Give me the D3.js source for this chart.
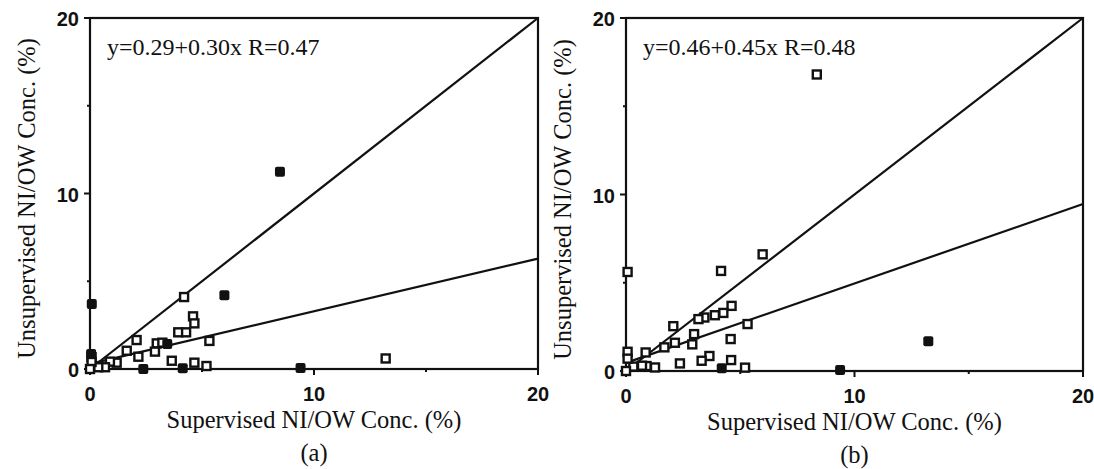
<!DOCTYPE html>
<html>
<head>
<meta charset="utf-8">
<script src="https://cdn.jsdelivr.net/npm/d3@7"></script>
<style>
  body { margin: 0; background: #fff; }
  .tick-label { font-family: "Liberation Sans", Arial, sans-serif; font-size: 20px; font-weight: bold; fill: #111; }
  .axis-title { font-family: "Liberation Serif", "Times New Roman", serif; font-size: 24.5px; fill: #111; }
  .eq { font-family: "Liberation Serif", "Times New Roman", serif; font-size: 24px; fill: #111; }
</style>
</head>
<body>
<svg id="chart" width="1094" height="469"></svg>
<script>
// panel (a)
let aOpenX = [4.2, 4.6, 4.66, 3.94, 4.29, 2.08, 5.33, 2.98, 3.23, 1.64, 2.16, 2.9, 3.65, 4.66, 5.2, 1.19, 0.89, 0.67, 0.37, 0.07, 0.07, 0, 13.2];
let aOpenY = [4.1, 3.0, 2.6, 2.09, 2.09, 1.65, 1.6, 1.46, 1.5, 1.04, 0.7, 0.99, 0.47, 0.36, 0.17, 0.36, 0.42, 0.1, 0.1, 0.67, 0.4, 0, 0.6];
let aFillX = [0.08, 6.0, 8.48, 4.14, 2.38, 9.4, 3.45, 0.05];
let aFillY = [3.7, 4.2, 11.24, 0.04, 0.0, 0.05, 1.42, 0.85];
let aFit = { intercept: 0.29, slope: 0.30, label: "y=0.29+0.30x R=0.47", tag: "(a)" };

// panel (b)
let bOpenX = [5.98, 4.62, 4.26, 3.89, 3.43, 3.17, 2.07, 5.32, 2.98, 2.14, 2.9, 1.68, 0.86, 4.58, 3.65, 3.31, 4.6, 2.36, 5.21, 1.27, 0.9, 0.7, 0.32, 0.07, 0.07, 0.07, 0, 8.35, 4.16];
let bOpenY = [6.61, 3.69, 3.29, 3.16, 3.03, 2.94, 2.54, 2.66, 2.09, 1.6, 1.51, 1.34, 1.05, 1.81, 0.85, 0.58, 0.62, 0.43, 0.19, 0.2, 0.28, 0.3, 0.25, 1.09, 0.7, 5.61, 0, 16.8, 5.67];
let bFillX = [4.19, 9.37, 13.23];
let bFillY = [0.15, 0.06, 1.69];
let bFit = { intercept: 0.46, slope: 0.45, label: "y=0.46+0.45x R=0.48", tag: "(b)" };

let ticks = [0, 10, 20];
let minorTicks = [5, 15];
let identity = [0, 20];

let svg = d3.select('#chart');

function drawPanel(left, right, top, bottom, openX, openY, fillX, fillY, fit) {
  let x = d3.scaleLinear().domain([0, 20]).range([left, right]);
  let y = d3.scaleLinear().domain([0, 20]).range([bottom, top]);
  let g = svg.append('g');

  // frame
  g.append('rect')
    .attr('x', left).attr('y', top)
    .attr('width', right - left).attr('height', bottom - top)
    .attr('fill', 'none').attr('stroke', '#111').attr('stroke-width', 2.2);

  // ticks
  ticks.forEach(function(t) {
    g.append('line').attr('x1', left - 6).attr('x2', left).attr('y1', y(t)).attr('y2', y(t))
      .attr('stroke', '#111').attr('stroke-width', 2);
    g.append('line').attr('x1', x(t)).attr('x2', x(t)).attr('y1', bottom).attr('y2', bottom + 6)
      .attr('stroke', '#111').attr('stroke-width', 2);
    g.append('text').attr('class', 'tick-label')
      .attr('x', left - 11).attr('y', y(t) + 8).attr('text-anchor', 'end').text(t);
    g.append('text').attr('class', 'tick-label')
      .attr('x', x(t)).attr('y', bottom + 32).attr('text-anchor', 'middle').text(t);
  });
  minorTicks.forEach(function(t) {
    g.append('line').attr('x1', left - 3).attr('x2', left).attr('y1', y(t)).attr('y2', y(t))
      .attr('stroke', '#111').attr('stroke-width', 2);
    g.append('line').attr('x1', x(t)).attr('x2', x(t)).attr('y1', bottom).attr('y2', bottom + 3)
      .attr('stroke', '#111').attr('stroke-width', 2);
  });

  // y = x line and fitted line
  g.append('line')
    .attr('x1', x(identity[0])).attr('y1', y(identity[0]))
    .attr('x2', x(identity[1])).attr('y2', y(identity[1]))
    .attr('stroke', '#111').attr('stroke-width', 2.2);
  g.append('line')
    .attr('x1', x(0)).attr('y1', y(fit.intercept))
    .attr('x2', x(20)).attr('y2', y(fit.intercept + fit.slope * 20))
    .attr('stroke', '#111').attr('stroke-width', 2.2);

  // points
  let s = 8;
  g.selectAll(null).data(d3.zip(openX, openY)).enter().append('rect')
    .attr('x', d => x(d[0]) - s / 2).attr('y', d => y(d[1]) - s / 2)
    .attr('width', s).attr('height', s)
    .attr('fill', '#fff').attr('stroke', '#111').attr('stroke-width', 2.4);
  g.selectAll(null).data(d3.zip(fillX, fillY)).enter().append('rect')
    .attr('x', d => x(d[0]) - 5).attr('y', d => y(d[1]) - 5)
    .attr('width', 10).attr('height', 10)
    .attr('rx', 2)
    .attr('fill', '#111');

  // texts
  g.append('text').attr('class', 'eq')
    .attr('x', left + 17).attr('y', top + 37)
    .text(fit.label);

  let cx = (left + right) / 2;
  g.append('text').attr('class', 'axis-title')
    .attr('x', cx).attr('y', bottom + 59).attr('text-anchor', 'middle')
    .text('Supervised NI/OW Conc. (%)');
  g.append('text').attr('class', 'axis-title')
    .attr('x', cx).attr('y', bottom + 92).attr('text-anchor', 'middle')
    .text(fit.tag);
  g.append('text').attr('class', 'axis-title')
    .attr('transform', `translate(${left - 55},${(top + bottom) / 2 + 5}) rotate(-90)`)
    .attr('text-anchor', 'middle')
    .text('Unsupervised NI/OW Conc. (%)');
}

drawPanel(90, 538, 18, 369, aOpenX, aOpenY, aFillX, aFillY, aFit);
drawPanel(626, 1083, 18, 371, bOpenX, bOpenY, bFillX, bFillY, bFit);
</script>
</body>
</html>
